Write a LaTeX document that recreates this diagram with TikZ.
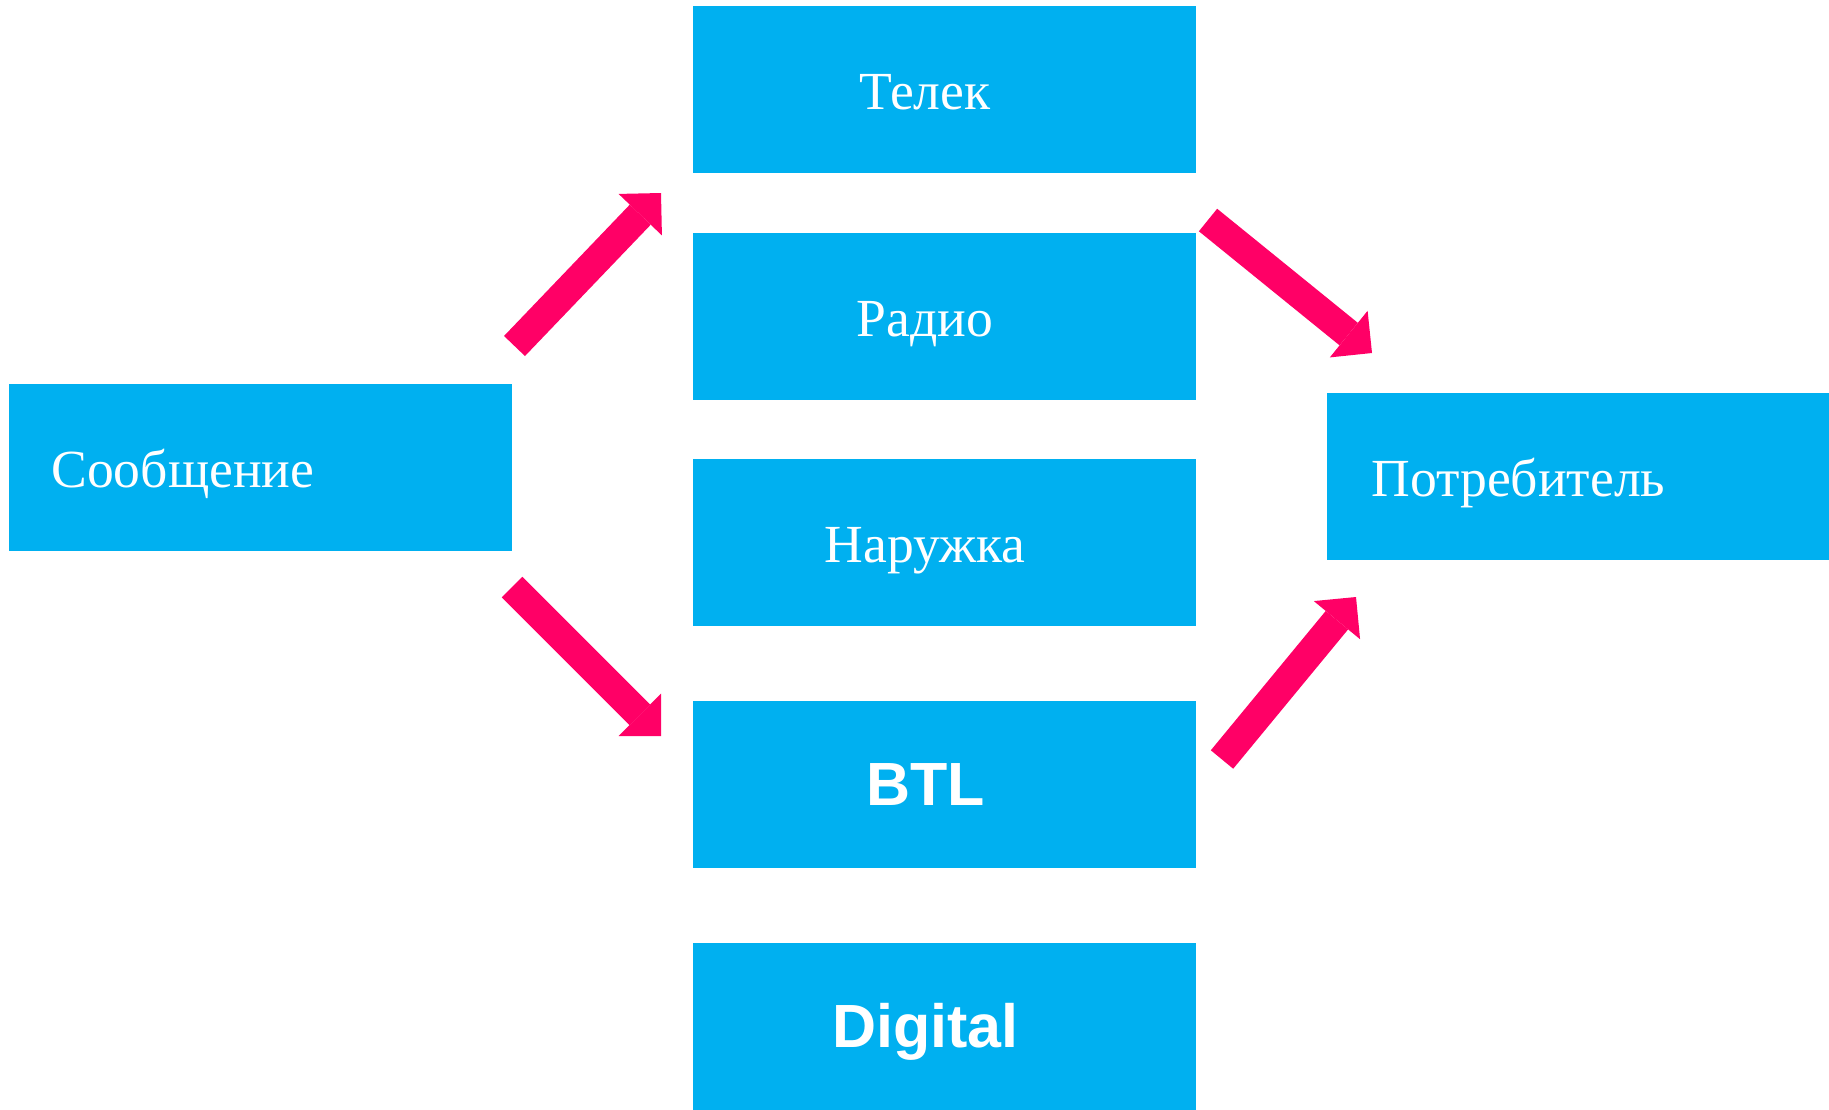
\documentclass[tikz,border=0pt]{standalone}
\usepackage{fontspec}
\setmainfont{Liberation Serif}
\newfontfamily\heavysans{Liberation Sans}
\usepackage{tikz}
\usetikzlibrary{arrows.meta}
\usetikzlibrary{positioning}
\definecolor{boxblue}{HTML}{00B0F0}
\definecolor{arrowpink}{HTML}{FF0066}
\tikzstyle{chanbox} =
[
	fill=boxblue,rectangle,inner sep=0pt,outer sep=0pt,
	minimum width=251.5pt, minimum height=83.5pt
]
\tikzstyle{lbl} =
[
	text=white,inner sep=0pt,
	font=\fontsize{26.8}{30}\selectfont
]
\tikzstyle{boldlbl} =
[
	text=white,inner sep=0pt,
	font=\heavysans\bfseries\fontsize{30.5}{33}\selectfont
]
\tikzstyle{fat} =
[
	draw=arrowpink,line width=14.5pt,
	-{Triangle[length=15pt,width=30pt,line width=0pt]}
]
\begin{document}
\begin{tikzpicture}[x=0.5pt,y=-0.5pt]
\useasboundingbox (0,0) rectangle (1829,1109);

\node[chanbox] (Msg) at (260.5,467.5) {};
\node[chanbox] (Tv) at (944.5,89.5) {};
\node[chanbox] (Radio) [below=30pt of Tv] {};
\node[chanbox] (Outdoor) [below=29.5pt of Radio] {};
\node[chanbox] (Btl) [below=37.5pt of Outdoor] {};
\node[chanbox] (Digital) [below=37.5pt of Btl] {};
\node[chanbox] (Cons) at (1578.5,476.5) {};

\node[lbl,anchor=base west] (MsgT) at ([shift={(42,20)}]Msg.west) {Сообщение};
\node[lbl,anchor=base] (TvT) at ([shift={(-19.5,20)}]Tv.center) {Телек};
\node[lbl,anchor=base] (RadioT) at ([shift={(-19.5,20)}]Radio.center) {Радио};
\node[lbl,anchor=base] (OutdoorT) at ([shift={(-19.5,20)}]Outdoor.center) {Наружка};
\node[boldlbl,anchor=base] (BtlT) at ([shift={(-19,21)}]Btl.center) {BTL};
\node[boldlbl,anchor=base] (DigitalT) at ([shift={(-19,21)}]Digital.center) {Digital};
\node[lbl,anchor=base west] (ConsT) at ([shift={(44,20)}]Cons.west) {Потребитель};

\coordinate (A1s) at ([shift={(2.5,-38)}]Msg.north east);
\coordinate (A1e) at ([shift={(-32,20)}]Tv.south west);
\coordinate (A2s) at ([shift={(0,36)}]Msg.south east);
\coordinate (A2e) at ([shift={(-32,35)}]Btl.north west);
\coordinate (A3s) at ([shift={(12,-13)}]Radio.north east);
\coordinate (A3e) at ([shift={(45,-40)}]Cons.north west);
\coordinate (A4s) at ([shift={(26,58.5)}]Btl.north east);
\coordinate (A4e) at ([shift={(29,37)}]Cons.south west);

\path
	(A1s) edge[fat] (A1e)
	(A2s) edge[fat] (A2e)
	(A3s) edge[fat] (A3e)
	(A4s) edge[fat] (A4e);

\end{tikzpicture}
\end{document}
